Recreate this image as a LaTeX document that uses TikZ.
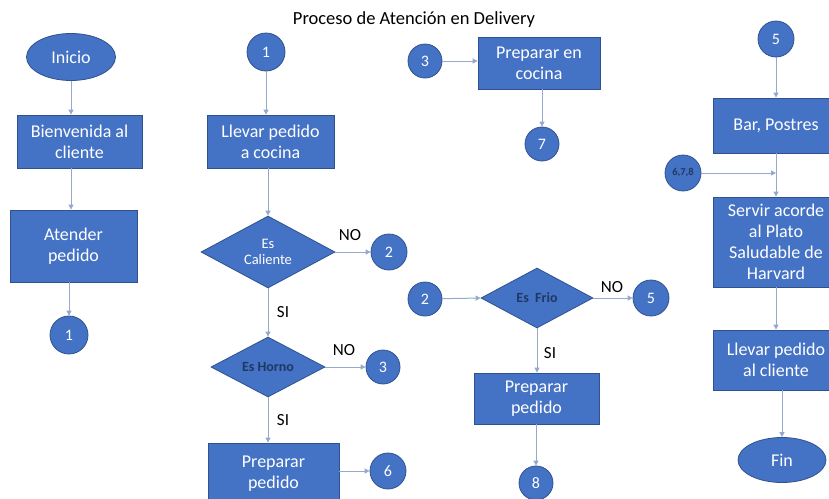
\documentclass[tikz,border=0pt]{standalone}
\usepackage{fontspec}
\setmainfont{Carlito}
\usetikzlibrary{shapes.geometric,arrows.meta}
\definecolor{boxfill}{HTML}{4472C4}
\definecolor{boxline}{HTML}{2F528F}
\definecolor{conn}{HTML}{94A9CC}
\definecolor{navy}{HTML}{1F3864}
\tikzset{
  base/.style={fill=boxfill,draw=boxline,line width=0.8pt,text=white,align=center,inner sep=0pt,font=\fontsize{18}{21}\selectfont},
  procbox/.style={base,rectangle,minimum width=#1},
  term/.style={base,ellipse,minimum width=89pt,minimum height=47pt},
  conncirc/.style={base,circle,minimum size=#1,font=\fontsize{16}{18}\selectfont},
  decision/.style={base,diamond,font=\fontsize{14.5}{16}\selectfont},
  flow/.style={draw=conn,line width=1pt,-{Triangle[length=5pt,width=5pt]}},
  lbl/.style={font=\fontsize{17}{19}\selectfont,text=black,inner sep=0pt}
}
\begin{document}
\begin{tikzpicture}[x=1pt,y=-1pt]
\useasboundingbox (0,0) rectangle (829,498);
\node[font=\fontsize{18.5}{21}\selectfont,text=black] (title) at (414,20) {Proceso de Atención en Delivery};
% column 1
\node[term] (inicio) at (71,57) {Inicio};
\node[procbox=125pt,minimum height=53pt] (bien) at (79.5,141.5) {Bienvenida al\\cliente};
\node[procbox=127pt,minimum height=72pt] (atender) at (73.5,246) {Atender\\pedido};
\node[conncirc=38pt] (c1a) at (69,335) {1};
\draw[flow] (inicio) -- (inicio |- bien.north);
\draw[flow] (bien.south -| inicio) -- (inicio |- atender.north);
\draw[flow] (atender.south -| c1a) -- (c1a);
% column 2
\node[conncirc=38pt] (c1b) at (266,52) {1};
\node[procbox=127pt,minimum height=53pt] (llevar) at (270.5,141.5) {Llevar pedido\\a cocina};
\node[decision,minimum width=134pt,minimum height=72pt,aspect=1.86] (dcal) at (268,252) {Es\\Caliente};
\node[conncirc=36pt] (c2a) at (389,252) {2};
\node[decision,minimum width=114pt,minimum height=60pt,aspect=1.9,text=navy,font=\bfseries\fontsize{14}{16}\selectfont] (dhor) at (268,367) {Es Horno};
\node[conncirc=34pt] (c3a) at (383,367) {3};
\node[procbox=131pt,minimum height=62pt] (prep1) at (273.5,474) {Preparar\\pedido};
\node[conncirc=36pt] (c6) at (388,471) {6};
\draw[flow] (c1b) -- (c1b |- llevar.north);
\draw[flow] (llevar.south -| dcal) -- (dcal.north);
\draw[flow] (dcal.east) -- (c2a);
\node[lbl] (no1) at (350,235) {NO};
\draw[flow] (dcal.south) -- (dhor.north);
\node[lbl] (si1) at (283,312) {SI};
\draw[flow] (dhor.east) -- (c3a);
\node[lbl] (no2) at (344,350) {NO};
\draw[flow] (dhor.south) -- (dhor |- prep1.north);
\node[lbl] (si2) at (283,420) {SI};
\draw[flow] (prep1.east |- c6) -- (c6);
% column 3
\node[conncirc=34pt] (c3b) at (425,61) {3};
\node[procbox=122pt,minimum height=52pt] (prepcoc) at (539,63) {Preparar en\\cocina};
\node[conncirc=34pt] (c7) at (542,144) {7};
\draw[flow] (c3b) -- (prepcoc.west |- c3b);
\draw[flow] (prepcoc.south -| c7) -- (c7);
\node[conncirc=34pt] (c2b) at (425,299) {2};
\node[decision,minimum width=112pt,minimum height=60pt,aspect=1.87,text=navy,font=\bfseries\fontsize{14}{16}\selectfont] (dfrio) at (537,298) {Es\ \ Frio};
\node[conncirc=36pt] (c5a) at (651,298) {5};
\node[procbox=125pt,minimum height=51pt] (prep2) at (536.5,398.5) {Preparar\\pedido};
\node[conncirc=34pt] (c8) at (536,483) {8};
\draw[flow] (c2b) -- (dfrio.west);
\draw[flow] (dfrio.east) -- (c5a);
\node[lbl] (no3) at (612,287) {NO};
\draw[flow] (dfrio.south) -- (dfrio |- prep2.north);
\node[lbl] (si3) at (550,353) {SI};
\draw[flow] (prep2.south -| c8) -- (c8);
% column 4
\node[conncirc=36pt] (c5b) at (776,39) {5};
\node[procbox=126pt,minimum height=55pt] (bar) at (776,125.5) {Bar, Postres};
\node[conncirc=36pt,text=navy,font=\bfseries\fontsize{10.5}{12}\selectfont] (c678) at (683,173) {6,7,8};
\node[procbox=126pt,minimum height=90pt] (servir) at (776,242) {Servir acorde\\al Plato\\Saludable de\\Harvard};
\node[procbox=126pt,minimum height=60pt] (llevar2) at (776,360) {Llevar pedido\\al cliente};
\node[term,minimum width=88pt,minimum height=45pt] (fin) at (782,460) {Fin};
\coordinate (join) at (bar.south |- c678);
\draw[flow] (c5b) -- (c5b |- bar.north);
\draw[flow] (bar.south) -- (servir.north);
\draw[flow] (c678) -- (join);
\draw[flow] (servir.south) -- (llevar2.north);
\draw[flow] (llevar2.south -| fin) -- (fin.north);
\end{tikzpicture}
\end{document}
